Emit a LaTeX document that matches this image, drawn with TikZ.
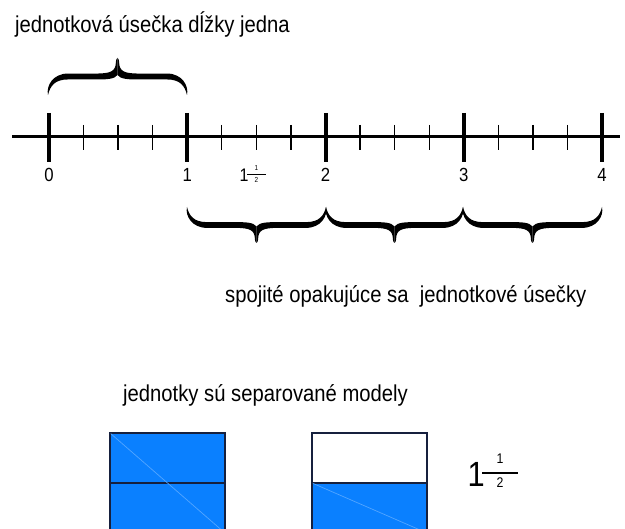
\documentclass[tikz,border=0pt]{standalone}
\usepackage{fontspec}
\setmainfont[FakeStretch=0.88]{Liberation Sans}
\usetikzlibrary{positioning}

\definecolor{unitblue}{RGB}{10,128,255}
\definecolor{celledge}{RGB}{22,32,62}

\begin{document}
\begin{tikzpicture}[x=1pt, y=-1pt]
    % Define styles
    \tikzset{
        heading/.style={anchor=base west, inner sep=0pt, font=\fontsize{23}{23}\selectfont},
        ticklabel/.style={anchor=base, inner sep=0pt, font=\fontsize{19}{19}\selectfont},
        axisline/.style={line width=3pt},
        majortick/.style={line width=4pt},
        minortick/.style={line width=1.3pt},
        cell/.style={draw=celledge, line width=1.1pt, minimum width=115pt, minimum height=50pt, inner sep=0pt, outer sep=0pt, anchor=north west},
        filled/.style={fill=unitblue},
        sheen/.style={draw=unitblue!70!white, line width=0.7pt, shorten <=1pt, shorten >=1pt},
        % one half of a curly brace, #1 = half width, #2 = height of the tip (negative points down)
        pics/halfbrace/.style 2 args={code={
            \fill (0,0) .. controls (-2,{-0.25*#2}) and (5,{-0.58*#2}) .. (20,{-0.58*#2})
                -- ({#1-22},{-0.58*#2}) .. controls ({#1-7},{-0.58*#2}) and ({#1-1.6},{-0.63*#2}) .. ({#1-1.6},{-0.9*#2})
                .. controls ({#1-1.6},{-0.96*#2}) and ({#1-0.5},{-#2}) .. (#1,-#2)
                -- (#1,{-0.54*#2}) .. controls ({#1-3},{-0.42*#2}) and ({#1-12},{-0.42*#2}) .. ({#1-22},{-0.42*#2})
                -- (20,{-0.42*#2}) .. controls (7,{-0.42*#2}) and (2.2,{-0.25*#2}) .. (0,0) -- cycle;
        }},
        pics/curly/.style 2 args={code={
            \pic {halfbrace={#1}{#2}};
            \pic[xscale=-1] at ({2*#1},0) {halfbrace={#1}{#2}};
        }},
        % mixed number one and a half
        pics/mixhalf/.style={code={
            \node[anchor=base east, inner sep=0pt, font=\fontsize{35}{35}\selectfont] (-whole) at (3,0) {1};
            \node[anchor=base, inner sep=0pt, font=\fontsize{14}{14}\selectfont] (-num) at (18,-23) {1};
            \node[anchor=base, inner sep=0pt, font=\fontsize{14}{14}\selectfont] (-den) at (18,1) {2};
            \draw[line width=1.1pt] (0,-14) -- (36,-14);
        }}
    }

    \path[use as bounding box, fill=white] (0,0) rectangle (625,529);
    \clip (0,0) rectangle (625,529);

    % Title over the first unit
    \node[heading] (title) at (15,33) {jednotková úsečka dĺžky jedna};
    \pic at (48,95) {curly={69.5}{37}};

    % Number line
    \coordinate (axisstart) at (12,137);
    \coordinate (axisend) at (620,137);
    \draw[axisline] (axisstart) -- (axisend);

    % Whole units with labels
    \foreach \k in {0,...,4} {
        \draw[majortick] ({49+138.25*\k},113) -- ++(0,49);
        \node[ticklabel] (num\k) at ({49+138.25*\k},182) {\k};
    }

    % Quarter ticks
    \foreach \k in {0,...,3}
        \foreach \q in {1,2,3}
            \draw[minortick] ({49+138.25*(\k+\q/4)},125) -- ++(0,25);

    \pic[scale=0.52, transform shape] (mixA) at (247,182) {mixhalf};

    % Repeated units below the line
    \pic at (187,207) {curly={69.5}{-36}};
    \pic at (326,207) {curly={68.5}{-36}};
    \pic at (463,207) {curly={69.5}{-36}};
    \node[heading] (repeat) at (225,303) {spojité opakujúce sa\ \ jednotkové úsečky};

    % Separate models
    \node[heading] (models) at (123,402) {jednotky sú separované modely};

    \node[cell, filled] (lefttop) at (110,433) {};
    \node[cell, filled, below=0pt of lefttop] (leftbot) {};
    \draw[sheen] (lefttop.north west) -- (leftbot.south east);

    \node[cell] (righttop) at (312,433) {};
    \node[cell, filled, below=0pt of righttop] (rightbot) {};
    \draw[sheen] (rightbot.north west) -- (rightbot.south east);

    \pic[transform shape] (mixB) at (482,487) {mixhalf};

\end{tikzpicture}
\end{document}
